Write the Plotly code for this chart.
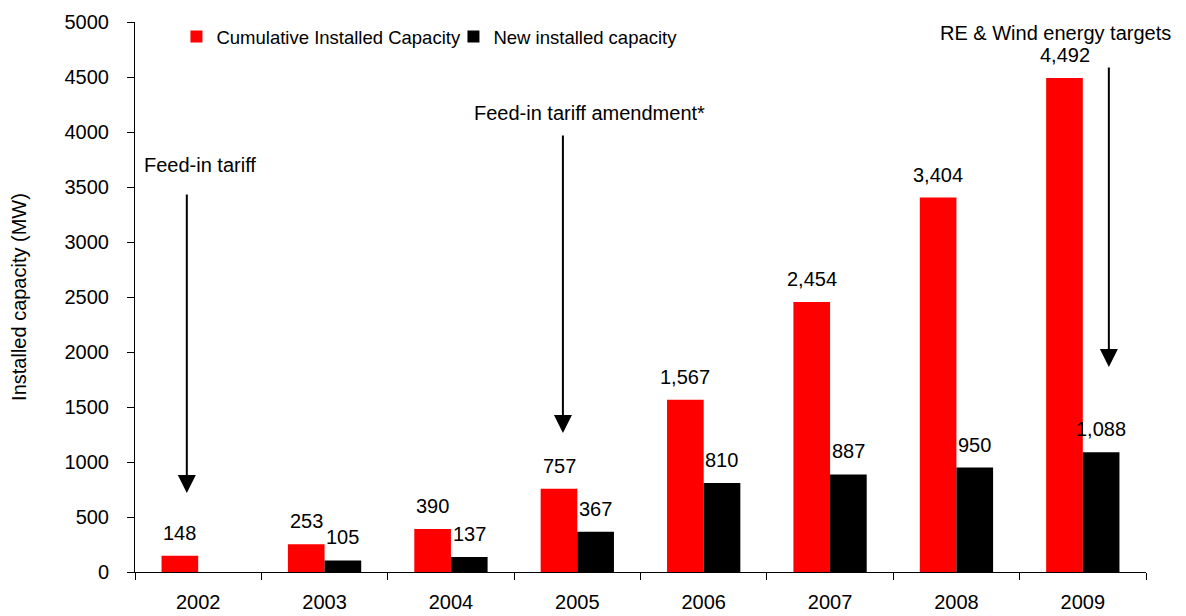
import plotly.graph_objects as go

# Wind power capacity by year (MW)
years = ["2002", "2003", "2004", "2005", "2006", "2007", "2008", "2009"]
cumulative = [148, 253, 390, 757, 1567, 2454, 3404, 4492]
new_capacity = [None, 105, 137, 367, 810, 887, 950, 1088]

series_names = ["Cumulative Installed Capacity", "New installed capacity"]
y_title = "Installed capacity (MW)"

# Policy milestones: label text, arrow x (category index), arrow tail / head values
milestones = [
    ("Feed-in tariff", -0.09, 3445, 718),
    ("Feed-in tariff amendment*", 2.886, 3982, 1264),
    ("RE & Wind energy targets", 7.206, 4600, 1864),
]
# Label placement for each milestone (category index, value)
milestone_labels = [(0.014, 3700), (3.1, 4173), (6.78, 4900)]

FONT = "Liberation Sans, Arial, sans-serif"
RED = "#FF0000"
BLACK = "#000000"

fig = go.Figure()
fig.add_trace(go.Bar(x=years, y=cumulative, name=series_names[0],
                     marker=dict(color=RED, line=dict(width=0))))
fig.add_trace(go.Bar(x=years, y=new_capacity, name=series_names[1],
                     marker=dict(color=BLACK, line=dict(width=0))))

annotations = []
# value labels above each bar
for i, v in enumerate(cumulative):
    annotations.append(dict(x=i, y=v, xref="x", yref="y", text=f"{v:,}",
                            showarrow=False, xshift=-18.3, yshift=10,
                            yanchor="bottom", font=dict(size=20, color="black", family=FONT)))
for i, v in enumerate(new_capacity):
    if v is None:
        continue
    annotations.append(dict(x=i, y=v, xref="x", yref="y", text=f"{v:,}",
                            showarrow=False, xshift=18.3, yshift=10,
                            yanchor="bottom", font=dict(size=20, color="black", family=FONT)))

# milestone arrows and their captions
for (label, ax_i, tail, head), (lx, ly) in zip(milestones, milestone_labels):
    annotations.append(dict(x=ax_i, y=head, ax=ax_i, ay=tail, xref="x", yref="y",
                            axref="x", ayref="y", text="", showarrow=True,
                            arrowhead=2, arrowsize=1.8, arrowwidth=2, arrowcolor="black"))
    annotations.append(dict(x=lx, y=ly, xref="x", yref="y", text=label, showarrow=False,
                            xanchor="center", yanchor="middle",
                            font=dict(size=20, color="black", family=FONT)))

fig.update_layout(
    width=1186, height=616,
    margin=dict(l=135, r=40, t=22, b=44),
    paper_bgcolor="white", plot_bgcolor="white",
    barmode="group", bargap=0.42, bargroupgap=0,
    font=dict(family=FONT, color="black", size=20),
    showlegend=True,
    legend=dict(orientation="h", x=0.041, xanchor="left", y=0.9727, yanchor="middle",
                font=dict(size=18.5, family=FONT), bgcolor="rgba(0,0,0,0)",
                itemwidth=30, entrywidth=232, entrywidthmode="pixels",
                traceorder="normal"),
    annotations=annotations,
)
fig.update_xaxes(type="category", categoryorder="array", categoryarray=years,
                 range=[-0.5, len(years) - 0.5], autorange=False, automargin=False,
                 showline=True, linecolor="black", linewidth=1,
                 ticks="outside", tickson="boundaries", ticklen=7, tickcolor="black",
                 tickwidth=1, showgrid=False, tickfont=dict(size=20, family=FONT),
                 ticklabelstandoff=12)
fig.update_yaxes(range=[0, 5000], dtick=500, showline=True, linecolor="black", linewidth=1,
                 ticks="outside", ticklen=7, tickcolor="black", tickwidth=1,
                 showgrid=False, zeroline=False, tickfont=dict(size=20, family=FONT),
                 ticklabelstandoff=14, automargin=False,
                 title=dict(text=y_title, font=dict(size=20, family=FONT), standoff=32))

fig.write_html("out.html")
